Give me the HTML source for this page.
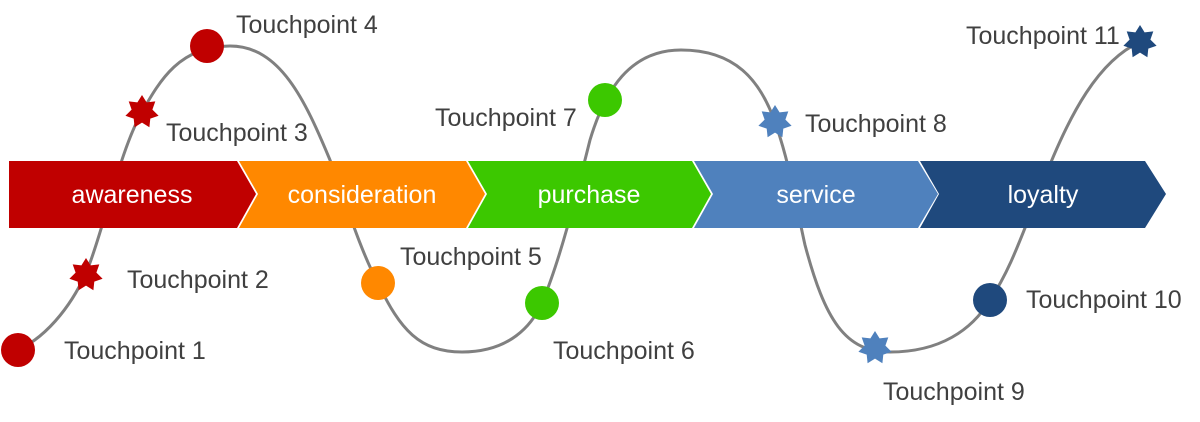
<!DOCTYPE html>
<html><head><meta charset="utf-8"><style>html,body{margin:0;padding:0;background:#fff}svg{display:block}</style></head><body>
<svg width="1200" height="422" viewBox="0 0 1200 422" xmlns="http://www.w3.org/2000/svg" font-family="Liberation Sans, sans-serif">
<defs><polygon id="st" points="0,-17 4.6,-9.6 13.3,-10.6 10.4,-2.4 16.6,3.8 8.3,6.6 7.4,15.3 0,10.6 -7.4,15.3 -8.3,6.6 -16.6,3.8 -10.4,-2.4 -13.3,-10.6 -4.6,-9.6"/></defs>
<path d="M18,350 C50,335 75,300 88,268 C105,225 120,150 142,112 C160,80 180,46 230,46 C280,46 305,100 330,160 C345,200 360,250 378,283 C400,330 420,352 462,352 C510,352 532,325 542,303 C560,260 575,200 590,140 C605,90 630,50 681,50 C735,50 760,80 775,122 C790,165 795,200 805,245 C825,320 845,352 890,352 C940,352 972,330 990,300 C1010,270 1020,240 1040,190 C1070,110 1100,60 1140,42" fill="none" stroke="#808080" stroke-width="3"/>
<polygon points="9,161 237,161 256,194 237,228 9,228" fill="#c00000"/>
<polygon points="239,161 466,161 485,194 466,228 239,228 258,194" fill="#ff8800"/>
<polygon points="468,161 692,161 711,194 692,228 468,228 487,194" fill="#3cc800"/>
<polygon points="694,161 918,161 938,194 918,228 694,228 713,194" fill="#4f81bd"/>
<polygon points="920,161 1145,161 1166,194 1145,228 920,228 939,194" fill="#1f497d"/>
<g fill="#fff" font-size="25" text-anchor="middle">
<text x="132" y="203">awareness</text><text x="362" y="203">consideration</text><text x="589" y="203">purchase</text><text x="816" y="203">service</text><text x="1043" y="203">loyalty</text></g>
<circle cx="18" cy="350" r="17" fill="#c00000"/>
<use href="#st" x="86" y="275" fill="#c00000"/>
<use href="#st" x="142" y="112" fill="#c00000"/>
<circle cx="207" cy="46" r="17" fill="#c00000"/>
<circle cx="378" cy="283" r="17" fill="#ff8800"/>
<circle cx="542" cy="303" r="17" fill="#3cc800"/>
<circle cx="605" cy="100" r="17" fill="#3cc800"/>
<use href="#st" x="775" y="122" fill="#4f81bd"/>
<use href="#st" x="875" y="348" fill="#4f81bd"/>
<circle cx="990" cy="300" r="17" fill="#1f497d"/>
<use href="#st" x="1140" y="42" fill="#1f497d"/>
<g fill="#404040" font-size="25">
<text x="64" y="359">Touchpoint 1</text><text x="127" y="288">Touchpoint 2</text><text x="166" y="141">Touchpoint 3</text><text x="236" y="33">Touchpoint 4</text><text x="400" y="265">Touchpoint 5</text><text x="553" y="359">Touchpoint 6</text><text x="435" y="126">Touchpoint 7</text><text x="805" y="132">Touchpoint 8</text><text x="883" y="400">Touchpoint 9</text><text x="1026" y="308">Touchpoint 10</text><text x="966" y="44">Touchpoint 11</text></g>
</svg></body></html>
